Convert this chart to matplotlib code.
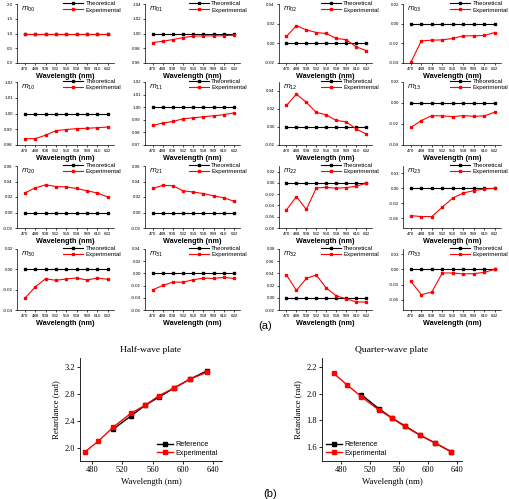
import matplotlib
matplotlib.use("Agg")
import matplotlib.pyplot as plt

W, H = 510, 499

wl_labels = ["470", "488", "508", "532", "550", "568", "589", "610", "632"]

# Mueller matrix elements: theoretical and experimental
theo = {
    "00": [1.0] * 9, "01": [1.0] * 9, "02": [0.0] * 9, "03": [0.0] * 9,
    "10": [1.0] * 9, "11": [1.0] * 9, "12": [0.0] * 9, "13": [0.0] * 9,
    "20": [0.0] * 9, "21": [0.0] * 9, "22": [0.0] * 9, "23": [0.0] * 9,
    "30": [0.0] * 9, "31": [0.0] * 9, "32": [0.0] * 9, "33": [0.0] * 9,
}
m00 = [1.0, 1.0, 1.0, 1.0, 1.0, 1.0, 1.0, 1.0, 1.0]
m01 = [0.9877, 0.9895, 0.9918, 0.9945, 0.9964, 0.9968, 0.9968, 0.997, 0.9977]
m02 = [0.007, 0.018, 0.0137, 0.011, 0.010, 0.005, 0.0038, -0.0035, -0.0073]
m03 = [-0.0393, -0.0175, -0.0168, -0.0165, -0.015, -0.0124, -0.0124, -0.012, -0.009]
m10 = [0.984, 0.984, 0.9862, 0.9891, 0.9898, 0.9904, 0.9906, 0.991, 0.9914]
m11 = [0.9855, 0.9874, 0.9887, 0.9908, 0.9916, 0.9924, 0.9932, 0.994, 0.9955]
m12 = [0.024, 0.0365, 0.0274, 0.0163, 0.0135, 0.0073, 0.0057, -0.002, -0.0078]
m13 = [-0.0233, -0.0167, -0.012, -0.0123, -0.013, -0.012, -0.0127, -0.0123, -0.0087]
m20 = [0.0252, 0.0317, 0.0357, 0.0335, 0.033, 0.031, 0.028, 0.0252, 0.020]
m21 = [0.031, 0.035, 0.0345, 0.028, 0.0264, 0.0244, 0.0215, 0.019, 0.0146]
m22 = [-0.0478, -0.0245, -0.047, -0.009, -0.0078, -0.0095, -0.0083, -0.006, -0.0006]
m23 = [-0.055, -0.057, -0.057, -0.038, -0.0195, -0.0094, -0.0047, -0.0013, 0.0]
m30 = [-0.0285, -0.0174, -0.0092, -0.0108, -0.0095, -0.0085, -0.0105, -0.0085, -0.0098]
m31 = [-0.027, -0.0198, -0.0143, -0.0143, -0.0104, -0.0077, -0.0082, -0.0066, -0.0082]
m32 = [0.0374, 0.012, 0.0318, 0.0374, 0.016, 0.0033, -0.0016, -0.0066, -0.0071]
m33 = [-0.0236, -0.0499, -0.0447, -0.0072, -0.0072, -0.009, -0.0085, -0.006, 0.0]

exp = {"00": m00, "01": m01, "02": m02, "03": m03,
       "10": m10, "11": m11, "12": m12, "13": m13,
       "20": m20, "21": m21, "22": m22, "23": m23,
       "30": m30, "31": m31, "32": m32, "33": m33}

# y-axis ranges and ticks
ylims = {
    "00": (0.0, 2.0, [0.0, 0.5, 1.0, 1.5, 2.0], "%.1f"),
    "01": (0.96, 1.04, [0.96, 0.98, 1.00, 1.02, 1.04], "%.2f"),
    "02": (-0.02, 0.04, [-0.02, 0.0, 0.02, 0.04], "%.2f"),
    "03": (-0.04, 0.02, [-0.04, -0.02, 0.0, 0.02], "%.2f"),
    "10": (0.98, 1.02, [0.98, 0.99, 1.00, 1.01, 1.02], "%.2f"),
    "11": (0.97, 1.02, [0.97, 0.98, 0.99, 1.00, 1.01, 1.02], "%.2f"),
    "12": (-0.02, 0.05, [-0.02, 0.0, 0.02, 0.04], "%.2f"),
    "13": (-0.04, 0.02, [-0.04, -0.02, 0.0, 0.02], "%.2f"),
    "20": (-0.02, 0.06, [-0.02, 0.0, 0.02, 0.04, 0.06], "%.2f"),
    "21": (-0.02, 0.06, [-0.02, 0.0, 0.02, 0.04, 0.06], "%.2f"),
    "22": (-0.08, 0.03, [-0.08, -0.06, -0.04, -0.02, 0.0, 0.02], "%.2f"),
    "23": (-0.08, 0.045, [-0.06, -0.03, 0.0, 0.03], "%.2f"),
    "30": (-0.04, 0.02, [-0.04, -0.02, 0.0, 0.02], "%.2f"),
    "31": (-0.06, 0.04, [-0.06, -0.04, -0.02, 0.0, 0.02, 0.04], "%.2f"),
    "32": (-0.02, 0.08, [-0.02, 0.0, 0.02, 0.04, 0.06, 0.08], "%.2f"),
    "33": (-0.08, 0.04, [-0.06, -0.03, 0.0, 0.03], "%.2f"),
}

# retardance data (bottom panels)
hw_wl_exp = [470, 488, 508, 532, 550, 568, 589, 610, 632]
hw_exp = [1.94, 2.10, 2.31, 2.52, 2.63, 2.77, 2.89, 3.02, 3.12]
hw_wl_ref = [508, 532, 550, 568, 589, 610, 632]
hw_ref = [2.28, 2.48, 2.63, 2.75, 2.89, 3.02, 3.14]

qw_wl_exp = [470, 488, 508, 532, 550, 568, 589, 610, 632]
qw_exp = [2.155, 2.07, 1.98, 1.88, 1.82, 1.755, 1.69, 1.63, 1.565]
qw_wl_ref = [508, 532, 550, 568, 589, 610, 632]
qw_ref = [1.995, 1.89, 1.82, 1.76, 1.69, 1.63, 1.565]

fig = plt.figure(figsize=(W / 100, H / 100), dpi=100)
plt.rcParams["font.family"] = ["Liberation Sans", "DejaVu Sans"]


def px_axes(left, top, right, bottom):
    return fig.add_axes([left / W, 1 - bottom / H, (right - left) / W, (bottom - top) / H])


col_lr = [(17, 114), (145, 240), (279, 372), (403, 501)]
row_tb = [(4, 63), (82, 145), (166, 228), (249, 310)]

x = list(range(9))
for r in range(4):
    for c in range(4):
        key = f"{r}{c}"
        l, rr = col_lr[c]
        t, b = row_tb[r]
        ax = px_axes(l, t, rr, b)
        ax.plot(x, theo[key], color="black", marker="s", markersize=2.0, lw=0.8,
                label="Theoretical")
        ax.plot(x, exp[key], color="red", marker="s", markersize=2.0, lw=0.8,
                label="Experimental")
        lo, hi, ticks, fmt = ylims[key]
        ax.set_ylim(lo, hi)
        ax.set_yticks(ticks)
        ax.set_yticklabels([fmt % v for v in ticks])
        ax.set_xlim(-0.75, 8.6)
        ax.set_xticks(x)
        ax.set_xticklabels(wl_labels)
        ax.tick_params(labelsize=3.2, length=1.5, width=0.5, pad=1.5)
        for s in ("top", "right"):
            ax.spines[s].set_visible(False)
        for s in ("left", "bottom"):
            ax.spines[s].set_linewidth(0.5)
        ax.set_xlabel("Wavelength (nm)", fontsize=5.2, fontweight="bold", labelpad=1)
        ax.text(0.04, 0.99, r"$m_{%s}$" % key, transform=ax.transAxes,
                fontsize=5, va="top", ha="left")
        ax.legend(loc="upper right", fontsize=4.4, frameon=False, handlelength=3.2,
                  handletextpad=0.4, labelspacing=0.15, borderaxespad=0.0,
                  borderpad=0.1, bbox_to_anchor=(1.08, 1.06))

fig.text(258 / W, 1 - 326 / H, "(a)", fontsize=8, ha="left", va="center")
fig.text(263 / W, 1 - 494 / H, "(b)", fontsize=8, ha="left", va="center")

serif = ["Liberation Serif", "DejaVu Serif"]


def retard_axes(ax, title, wl_ref, ref, wl_exp, ex, xlim, ylim, yticks, legloc):
    ax.plot(wl_ref, ref, color="black", marker="s", markersize=2.6, lw=1.0, label="Reference")
    ax.plot(wl_exp, ex, color="red", marker="s", markersize=2.6, lw=1.0, label="Experimental")
    ax.set_xlim(*xlim)
    ax.set_ylim(*ylim)
    ax.set_xticks([480, 520, 560, 600, 640])
    ax.set_yticks(yticks)
    ax.set_yticklabels(["%.1f" % v for v in yticks], family=serif)
    ax.set_xticklabels(["480", "520", "560", "600", "640"], family=serif)
    ax.tick_params(labelsize=6, length=2, width=0.6, pad=1.5)
    for s in ("top", "right"):
        ax.spines[s].set_visible(False)
    for s in ("left", "bottom"):
        ax.spines[s].set_linewidth(0.6)
    ax.set_title(title, family=serif, fontsize=6.8, pad=4)
    ax.set_xlabel("Wavelength (nm)", family=serif, fontsize=6.3, labelpad=3)
    ax.set_ylabel("Retardance (rad)", family=serif, fontsize=6.3, labelpad=3)
    ax.legend(loc=legloc, fontsize=5.2, frameon=False, handlelength=2.2,
              handletextpad=0.3, labelspacing=0.2, borderaxespad=0.2)


ax_hw = px_axes(80, 358, 222, 461)
retard_axes(ax_hw, "Half-wave plate", hw_wl_ref, hw_ref, hw_wl_exp, hw_exp,
            (464, 652), (1.81, 3.33), [2.0, 2.4, 2.8, 3.2], "lower right")
ax_qw = px_axes(322, 358, 462, 461)
retard_axes(ax_qw, "Quarter-wave plate", qw_wl_ref, qw_ref, qw_wl_exp, qw_exp,
            (454, 647), (1.495, 2.27), [1.6, 1.8, 2.0, 2.2], "lower left")

fig.savefig("out.png", dpi=100)
